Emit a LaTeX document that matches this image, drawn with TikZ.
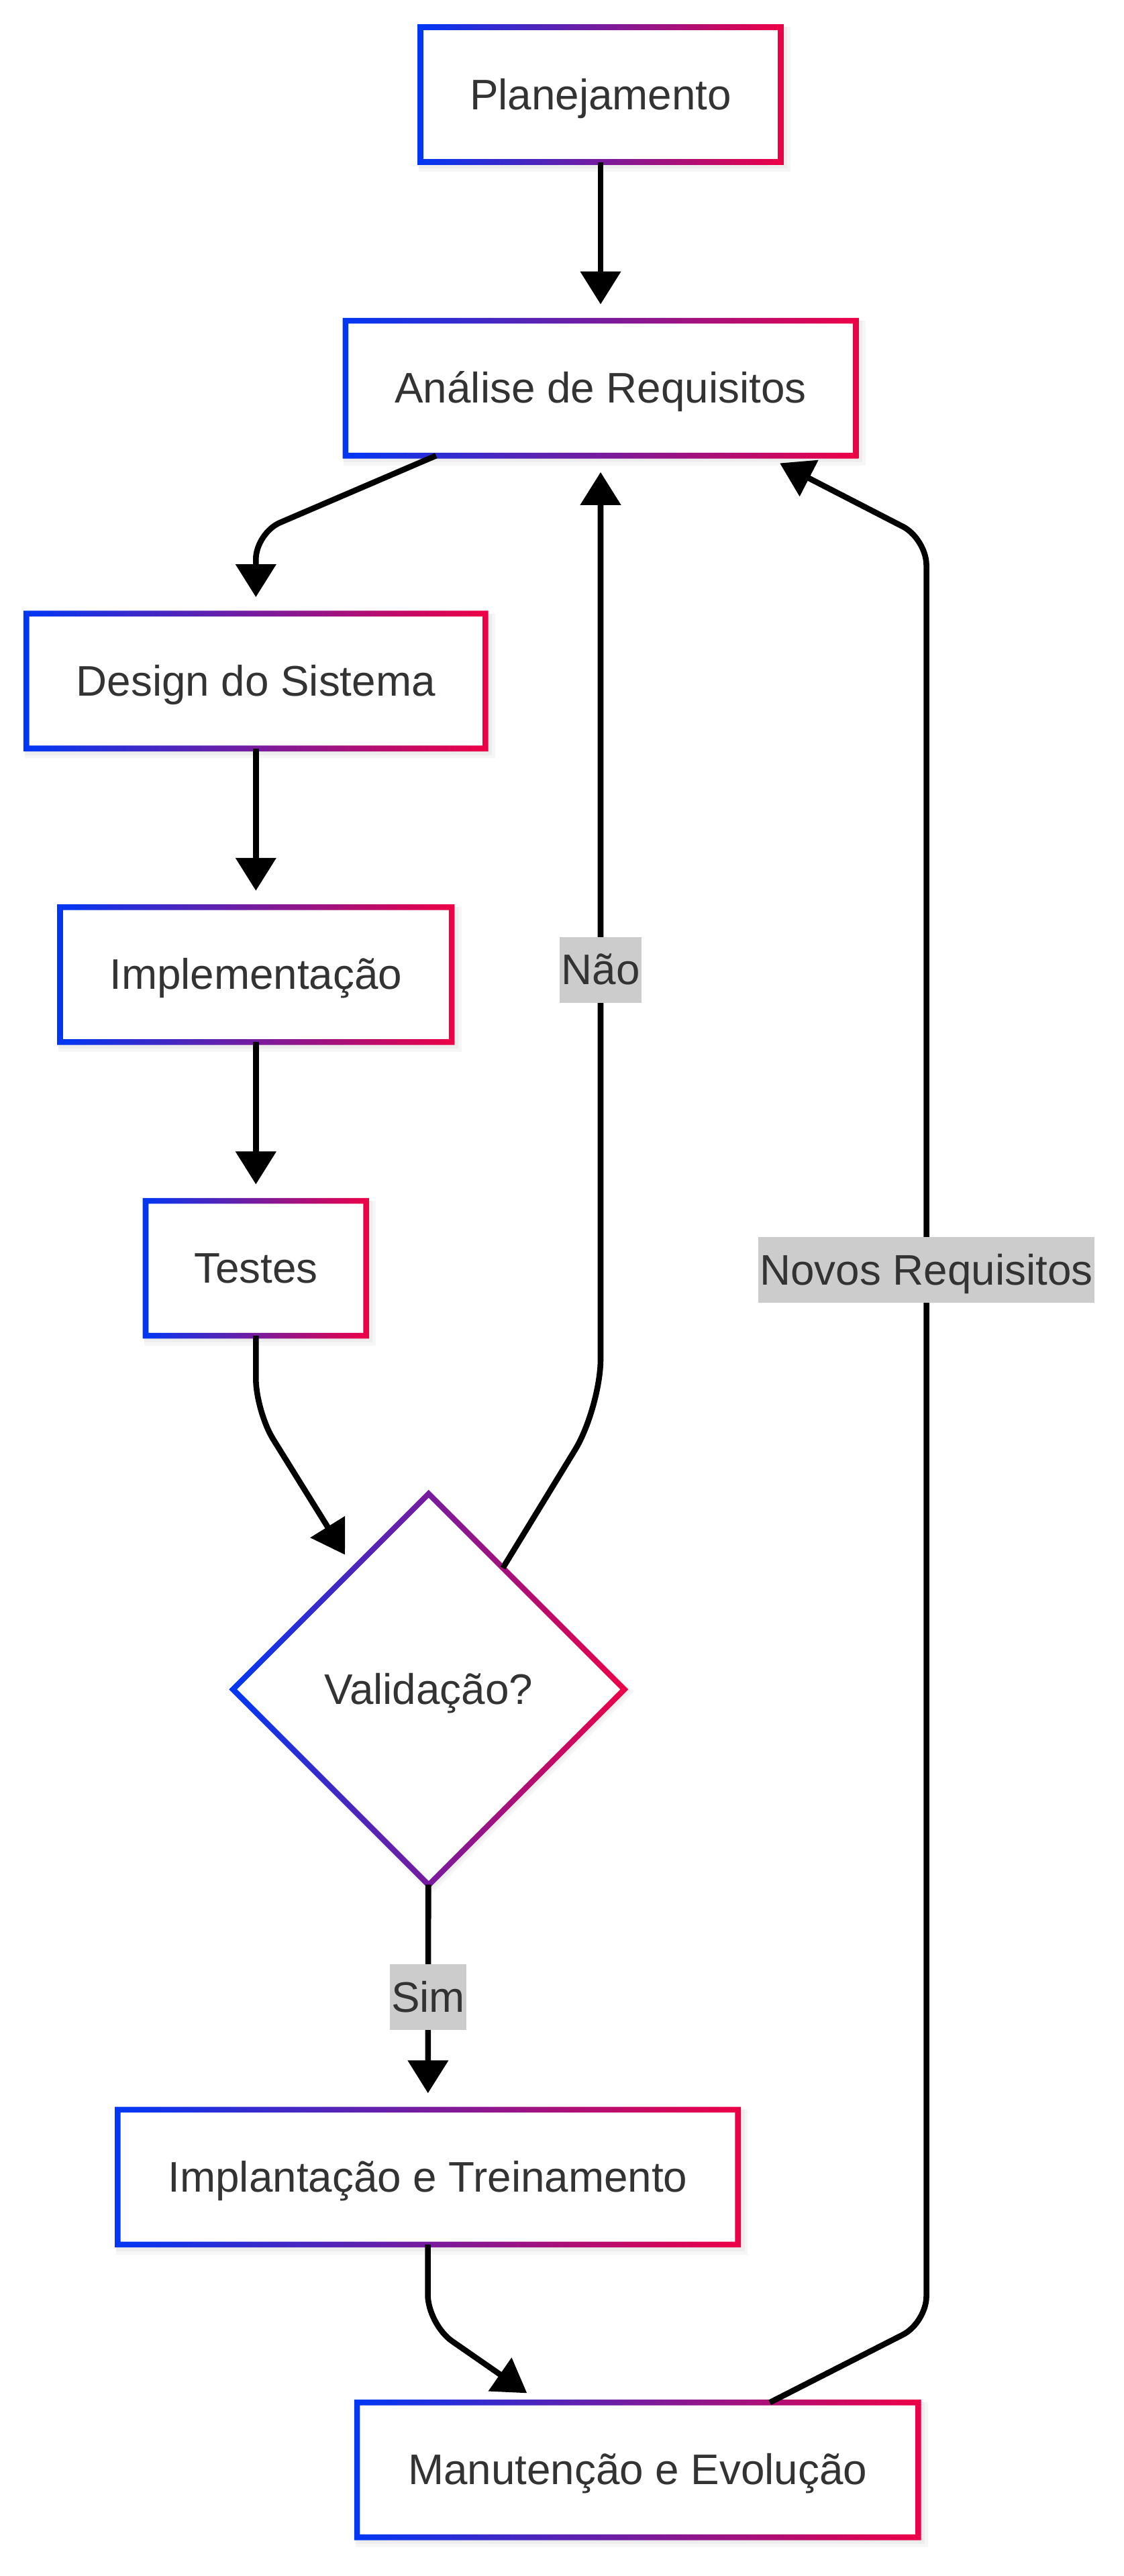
\documentclass[tikz,border=0pt]{standalone}
\usepackage{fontspec}
\setmainfont{Liberation Sans}
\usetikzlibrary{arrows.meta,shapes.geometric,backgrounds}
\definecolor{cblue}{RGB}{0,55,245}
\definecolor{cred}{RGB}{238,0,70}
\definecolor{ctext}{RGB}{51,51,51}
\definecolor{clabel}{RGB}{204,204,204}
\tikzset{>={Triangle[width=24pt,length=20pt]}}
\tikzset{
  stage/.style={rectangle, fill=white, minimum height=82pt, inner sep=0pt, outer sep=0pt, text=ctext},
  check/.style={diamond, aspect=1, fill=white, minimum width=237.8pt, minimum height=237.8pt, inner sep=0pt, outer sep=0pt, text=ctext},
  flow/.style={->, line width=3.5pt, shorten >=10pt},
  lbl/.style={sharp corners, fill=clabel, text=ctext, inner xsep=1pt, inner ysep=5.5pt}
}

\begin{document}
\begin{tikzpicture}[x=1pt, y=-1pt, font=\fontsize{26}{31}\selectfont, text height=23.5pt, text depth=5.5pt]
            \useasboundingbox (0,0) rectangle (683,1566);
            % stages of the cycle
            \node[stage, minimum width=219pt] (plan) at (365,57.5) {Planejamento};
            \node[stage, minimum width=310pt] (ana) at (365,236) {Análise de Requisitos};
            \node[stage, minimum width=279pt] (des) at (155.5,414) {Design do Sistema};
            \node[stage, minimum width=238pt] (imp) at (155.5,592.5) {Implementação};
            \node[stage, minimum width=134pt] (tes) at (155.5,771) {Testes};
            \node[check] (val) at (260.5,1027) {Validação?};
            \node[stage, minimum width=377pt] (impl) at (260,1323.5) {Implantação e Treinamento};
            \node[stage, minimum width=341pt] (man) at (387.5,1501.5) {Manutenção e Evolução};
            % bends
            \coordinate (c1) at (155.5,324);
            \coordinate (c2) at (155.5,858);
            \coordinate (c3) at (365,856);
            \coordinate (c4) at (260,1413);
            \coordinate (c5) at (563,1412);
            \coordinate (c6) at (563,327.5);
            % gradient frames
            \foreach \n in {plan,ana,des,imp,tes,impl,man}
                \shade[left color=cblue, right color=cred, even odd rule]
                    ([xshift=-1.75pt,yshift=1.75pt]\n.north west) rectangle ([xshift=1.75pt,yshift=-1.75pt]\n.south east)
                    ([xshift=1.75pt,yshift=-1.75pt]\n.north west) rectangle ([xshift=-1.75pt,yshift=1.75pt]\n.south east);
            \shade[left color=cblue, right color=cred, even odd rule]
                ([yshift=2.4pt]val.north) -- ([xshift=2.4pt]val.east) -- ([yshift=-2.4pt]val.south) -- ([xshift=-2.4pt]val.west) -- cycle
                ([yshift=-2.4pt]val.north) -- ([xshift=-2.4pt]val.east) -- ([yshift=2.4pt]val.south) -- ([xshift=2.4pt]val.west) -- cycle;
            % shadows
            \begin{scope}[on background layer]
                \fill[white] (0,0) rectangle (683,1566);
                \foreach \n in {plan,ana,des,imp,tes,impl,man}
                    \foreach \s in {2,4,6}
                        \fill[black, opacity=0.035] ([xshift=-1pt]\n.north west) rectangle ([xshift=\s pt,yshift=-\s pt]\n.south east);
                \foreach \s in {2,4,6}
                    \fill[black, opacity=0.035] ([xshift=1pt,yshift=-\s pt]val.north) -- ([xshift=\s pt,yshift=-1pt]val.east) -- ([xshift=1pt,yshift=-\s pt]val.south) -- ([xshift=-1pt,yshift=-1pt]val.west) -- cycle;
            \end{scope}
            % connectors
            \draw[flow] (plan) -- (ana);
            \draw[flow, rounded corners=16pt] ([xshift=-100pt]ana.south) -- (c1) -- (des);
            \draw[flow] (des) -- (imp);
            \draw[flow] (imp) -- (tes);
            \draw[flow, rounded corners=20pt] (tes) -- (c2) -- (val);
            \draw[flow, rounded corners=30pt] (val) -- (c3) -- node[lbl, pos=0.46] (no) {Não} (ana);
            \draw[flow] (val) -- node[lbl] (yes) {Sim} (impl);
            \draw[flow, rounded corners=18pt] (impl) -- (c4) -- (man);
            \draw[flow, rounded corners=16pt] (man) -- (c5) -- node[lbl, pos=0.59] (new) {Novos Requisitos} (c6) -- ([xshift=100pt]ana.south);
        \end{tikzpicture}
\end{document}
